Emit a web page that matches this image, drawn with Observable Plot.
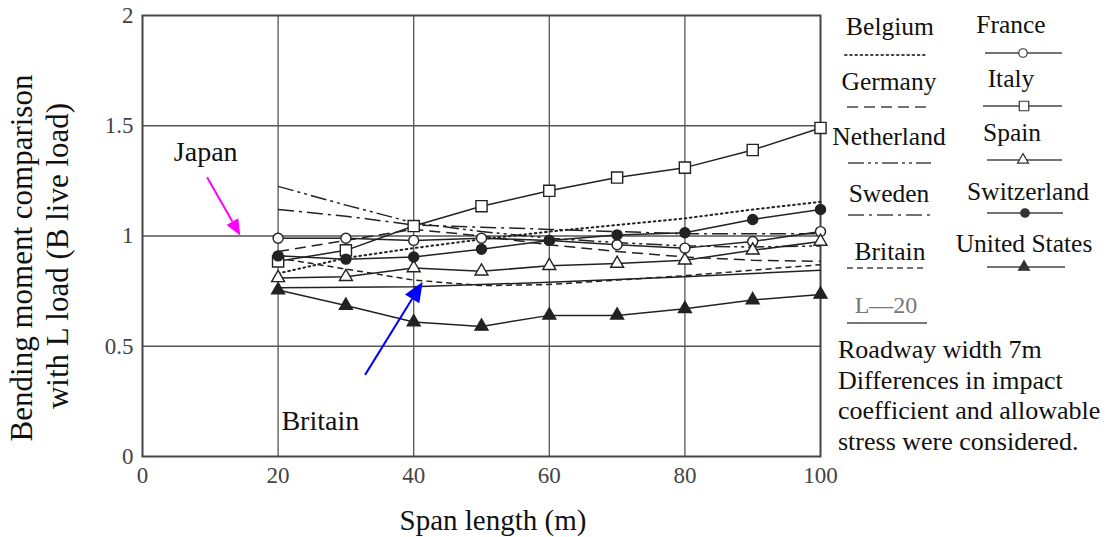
<!DOCTYPE html>
<html>
<head>
<meta charset="utf-8">
<script src="https://cdn.jsdelivr.net/npm/d3@7"></script>
<script src="https://cdn.jsdelivr.net/npm/@observablehq/plot@0.6"></script>
<style>
  html, body { margin: 0; padding: 0; background: #fff; }
  #chart { width: 1115px; height: 537px; }
</style>
</head>
<body>
<div id="chart"></div>
<script>
// ---------------- data ----------------
const spans = [20, 30, 40, 50, 60, 70, 80, 90, 100];
const belgium     = [0.83, 0.90, 0.945, 0.985, 1.02, 1.05, 1.08, 1.12, 1.155];
const germany     = [0.93, 0.98, 1.03, 1.00, 0.96, 0.93, 0.905, 0.89, 0.885];
const netherland  = [1.225, 1.14, 1.06, 1.02, 0.99, 0.97, 0.955, 0.95, 0.955];
const sweden      = [1.12, 1.09, 1.05, 1.04, 1.03, 1.02, 1.01, 1.01, 1.01];
const britain     = [0.90, 0.85, 0.80, 0.775, 0.78, 0.80, 0.82, 0.845, 0.87];
const france      = [0.99, 0.99, 0.98, 0.99, 0.98, 0.96, 0.945, 0.975, 1.02];
const italy       = [0.885, 0.935, 1.045, 1.135, 1.205, 1.265, 1.31, 1.39, 1.49];
const spain       = [0.81, 0.815, 0.855, 0.84, 0.865, 0.875, 0.89, 0.935, 0.975];
const switzerland = [0.91, 0.895, 0.905, 0.94, 0.98, 1.005, 1.015, 1.075, 1.12];
const unitedStates= [0.755, 0.685, 0.61, 0.59, 0.64, 0.64, 0.67, 0.71, 0.735];
const l20Spans = [20, 40, 60, 80, 100];
const l20      = [0.765, 0.77, 0.79, 0.815, 0.845];

const xTicks = [0, 20, 40, 60, 80, 100];
const yTicks = [0, 0.5, 1, 1.5, 2];

const seriesNames = ["Belgium", "Germany", "Netherland", "Sweden", "Britain",
                     "France", "Italy", "Spain", "Switzerland", "United States"];
const seriesValues = [belgium, germany, netherland, sweden, britain,
                      france, italy, spain, switzerland, unitedStates];

const notes = ["Roadway width 7m", "Differences in impact",
               "coefficient and allowable", "stress were considered."];

// ---------------- styles ----------------
const INK = "#222";
const styleOf = {
  "Belgium":       {dash: "1.6,3.6", width: 2.0, cap: "round"},
  "Germany":       {dash: "11,6"},
  "Netherland":    {dash: "16,4,3,4,3,4"},
  "Sweden":        {dash: "16,5,3,5"},
  "Britain":       {dash: "6,4"},
  "France":        {symbol: "circle", fill: "white", r: 5},
  "Italy":         {symbol: "square", fill: "white", r: 6.3},
  "Spain":         {symbol: "triangle", fill: "white", r: 4.8},
  "Switzerland":   {symbol: "circle", fill: INK, r: 5},
  "United States": {symbol: "triangle", fill: INK, r: 4.8}
};

const rows = [];
seriesNames.forEach((name, i) => spans.forEach((s, j) => rows.push({series: name, span: s, value: seriesValues[i][j]})));
const l20Rows = l20Spans.map((s, j) => ({series: "L-20", span: s, value: l20[j]}));

const lineMarks = seriesNames.map(name => {
  const st = styleOf[name];
  return Plot.line(rows.filter(d => d.series === name), {
    x: "span", y: "value", stroke: INK,
    strokeWidth: st.width || 1.5,
    strokeDasharray: st.dash || null,
    strokeLinecap: st.cap || "butt"
  });
});
const dotMarks = seriesNames.filter(n => styleOf[n].symbol).map(name => {
  const st = styleOf[name];
  return Plot.dot(rows.filter(d => d.series === name), {
    x: "span", y: "value", symbol: st.symbol, r: st.r,
    fill: st.fill, stroke: INK, strokeWidth: 1.4
  });
});

const FONT = "'Liberation Serif', 'Times New Roman', Times, serif";

const plot = Plot.plot({
  width: 1115, height: 537,
  marginLeft: 142, marginRight: 295, marginTop: 15, marginBottom: 81,
  x: {domain: [0, 100]},
  y: {domain: [0, 2]},
  style: {fontFamily: FONT, background: "white", overflow: "visible"},
  marks: [
    Plot.ruleX([20, 40, 60, 80], {stroke: "#555", strokeWidth: 1.3}),
    Plot.ruleY([0.5, 1, 1.5], {stroke: "#555", strokeWidth: 1.3}),
    Plot.frame({stroke: "#444", strokeWidth: 2}),
    Plot.axisX({ticks: xTicks, tickSize: 0, tickPadding: 10, fontSize: 23, fill: "#444", label: null}),
    Plot.axisY({ticks: yTicks, tickSize: 0, tickPadding: 9, fontSize: 23, fill: "#444", label: null, tickFormat: d => String(d)}),
    Plot.line(l20Rows, {x: "span", y: "value", stroke: INK, strokeWidth: 1.5}),
    ...lineMarks,
    ...dotMarks
  ]
});
document.getElementById("chart").appendChild(plot);

// ---------------- overlays (labels, annotations, legend) ----------------
const svg = d3.select(plot);
const sx = plot.scale("x"), sy = plot.scale("y");
const X = v => sx.apply(v), Y = v => sy.apply(v);
const g = svg.append("g").style("font-family", FONT).attr("fill", "#111");

// axis titles
g.append("text").attr("x", 493).attr("y", 530).attr("text-anchor", "middle")
  .attr("font-size", 29).text("Span length (m)");
g.append("text").attr("transform", "translate(32,258) rotate(-90)").attr("text-anchor", "middle")
  .attr("font-size", 31).text("Bending moment comparison");
g.append("text").attr("transform", "translate(68,256) rotate(-90)").attr("text-anchor", "middle")
  .attr("font-size", 31).text("with L load (B live load)");

// annotation arrows (positions in data units, drawn via the plot scales)
function arrow(x0, y0, x1, y1, color, head) {
  const px0 = X(x0), py0 = Y(y0), px1 = X(x1), py1 = Y(y1);
  const ang = Math.atan2(py1 - py0, px1 - px0);
  const bx = px1 - head * Math.cos(ang), by = py1 - head * Math.sin(ang);
  const w = head * 0.42;
  g.append("line").attr("x1", px0).attr("y1", py0).attr("x2", bx).attr("y2", by)
    .attr("stroke", color).attr("stroke-width", 2);
  g.append("path").attr("fill", color)
    .attr("d", `M${px1},${py1}L${bx - w * Math.sin(ang)},${by + w * Math.cos(ang)}L${bx + w * Math.sin(ang)},${by - w * Math.cos(ang)}Z`);
}
arrow(9.6, 1.264, 14.5, 1.0, "#ff00ff", 16);
arrow(32.9, 0.368, 41.4, 0.79, "#0000ff", 20);
g.append("text").attr("x", X(9.4)).attr("y", Y(1.336)).attr("text-anchor", "middle")
  .attr("font-size", 28).text("Japan");
g.append("text").attr("x", X(26.3)).attr("y", Y(0.118)).attr("text-anchor", "middle")
  .attr("font-size", 28).text("Britain");

// legend
const legendLayout = {
  "Belgium":       {tx: 890,  ty: 35,  x0: 845, x1: 927,  ly: 55},
  "Germany":       {tx: 889,  ty: 90,  x0: 847, x1: 930,  ly: 107},
  "Netherland":    {tx: 889,  ty: 145, x0: 848, x1: 931,  ly: 163},
  "Sweden":        {tx: 889,  ty: 202, x0: 848, x1: 933,  ly: 215},
  "Britain":       {tx: 890,  ty: 260, x0: 847, x1: 923,  ly: 268},
  "France":        {tx: 1011, ty: 33,  x0: 985, x1: 1062, ly: 53,  mx: 1023},
  "Italy":         {tx: 1011, ty: 87,  x0: 983, x1: 1062, ly: 106, mx: 1024},
  "Spain":         {tx: 1012, ty: 141, x0: 987, x1: 1062, ly: 160, mx: 1023},
  "Switzerland":   {tx: 1028, ty: 200, x0: 987, x1: 1063, ly: 213, mx: 1025},
  "United States": {tx: 1024, ty: 252, x0: 987, x1: 1065, ly: 267, mx: 1024}
};
const symbolType = {circle: d3.symbolCircle, square: d3.symbolSquare, triangle: d3.symbolTriangle};
seriesNames.forEach(name => {
  const L = legendLayout[name], st = styleOf[name];
  g.append("text").attr("x", L.tx).attr("y", L.ty).attr("text-anchor", "middle")
    .attr("font-size", 25.5).text(name);
  g.append("line").attr("x1", L.x0).attr("x2", L.x1).attr("y1", L.ly).attr("y2", L.ly)
    .attr("stroke", "#444").attr("stroke-width", st.width || 1.4)
    .attr("stroke-dasharray", st.dash || null).attr("stroke-linecap", st.cap || "butt");
  if (st.symbol) {
    g.append("path").attr("transform", `translate(${L.mx},${L.ly})`)
      .attr("d", d3.symbol(symbolType[st.symbol], Math.PI * (st.r * 0.85) ** 2)())
      .attr("fill", st.fill === "white" ? "white" : "#333").attr("stroke", "#333").attr("stroke-width", 1.2);
  }
});
g.append("text").attr("x", 886).attr("y", 313).attr("text-anchor", "middle")
  .attr("font-size", 24).attr("fill", "#777").text("L\u201420");
g.append("line").attr("x1", 847).attr("x2", 927).attr("y1", 323).attr("y2", 323)
  .attr("stroke", "#777").attr("stroke-width", 2);

// notes
notes.forEach((t, i) => {
  g.append("text").attr("x", 838).attr("y", 358 + i * 30.7).attr("text-anchor", "start")
    .attr("font-size", 26).text(t);
});
</script>
</body>
</html>
